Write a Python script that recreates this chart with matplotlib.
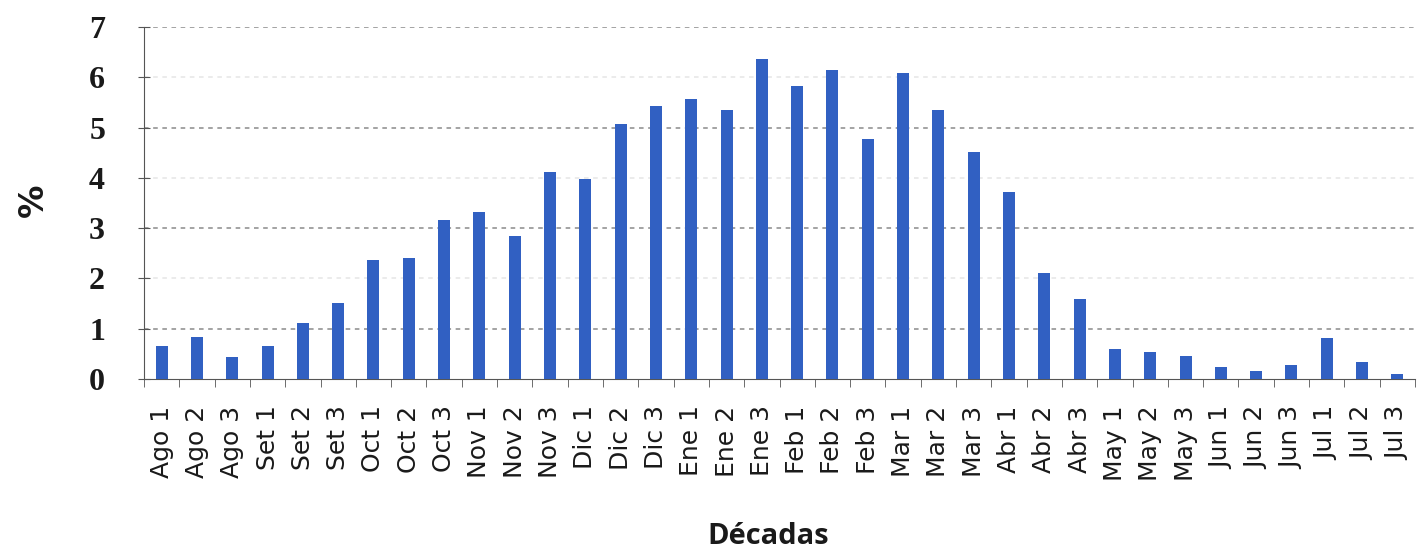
import numpy as np
import matplotlib
matplotlib.use('Agg')
import matplotlib.pyplot as plt
from matplotlib.ticker import FixedLocator

months = ['Ago', 'Set', 'Oct', 'Nov', 'Dic', 'Ene', 'Feb', 'Mar', 'Abr', 'May', 'Jun', 'Jul']
decadas = [f'{m} {i}' for m in months for i in (1, 2, 3)]
valores = [0.66, 0.84, 0.44, 0.66, 1.11, 1.52, 2.37, 2.40, 3.16,
           3.33, 2.84, 4.12, 3.98, 5.08, 5.43, 5.56, 5.35, 6.36,
           5.83, 6.14, 4.77, 6.09, 5.35, 4.52, 3.72, 2.11, 1.60,
           0.60, 0.54, 0.46, 0.23, 0.15, 0.28, 0.81, 0.34, 0.10]
yticks = [0, 1, 2, 3, 4, 5, 6, 7]

fig = plt.figure(figsize=(14.18, 5.56), dpi=100)
ax = fig.add_axes([144 / 1418, 1 - 379 / 556, (1415 - 144) / 1418, (379 - 27) / 556])

x = np.arange(len(decadas))
ax.bar(x, valores, width=0.34, color='#3160c2', zorder=3)

ax.set_xlim(-0.5, len(decadas) - 0.5)
ax.set_ylim(0, 7)

# gridlines: odd ones darker like in the scan
for y in yticks[1:]:
    col = '#8a8a8a' if y % 2 else '#e6e6e6'
    ax.axhline(y, color=col, linestyle=(0, (3, 3)), linewidth=1.1, zorder=1)

for s in ('top', 'right'):
    ax.spines[s].set_visible(False)
ax.spines['left'].set_color('#555555')
ax.spines['bottom'].set_color('#555555')

ax.set_yticks(yticks)
ax.set_yticklabels([str(v) for v in yticks], fontfamily='Liberation Serif',
                   fontweight='bold', fontsize=23, color='#1a1a1a')
ax.tick_params(axis='y', direction='inout', length=8, color='#555555', pad=24)

ax.set_xticks(x)
ax.set_xticklabels(decadas, rotation=90, fontfamily='DejaVu Sans', fontsize=18,
                   color='#1a1a1a', va='top', ha='center')
ax.xaxis.set_minor_locator(FixedLocator(np.arange(-0.5, len(decadas), 1.0)))
ax.tick_params(axis='x', which='major', length=0, pad=19)
ax.tick_params(axis='x', which='minor', direction='out', length=6, color='#555555')

fig.text(33 / 1418, 1 - 200 / 556, '%', rotation=90, fontsize=24, fontweight='bold',
         ha='center', va='center', color='#1a1a1a')
fig.text(768 / 1418, 1 - 536 / 556, 'Décadas', fontsize=21, fontweight='bold',
         fontfamily='Open Sans', ha='center', va='center', color='#1a1a1a')

fig.savefig('out.png', dpi=100, facecolor='white')
